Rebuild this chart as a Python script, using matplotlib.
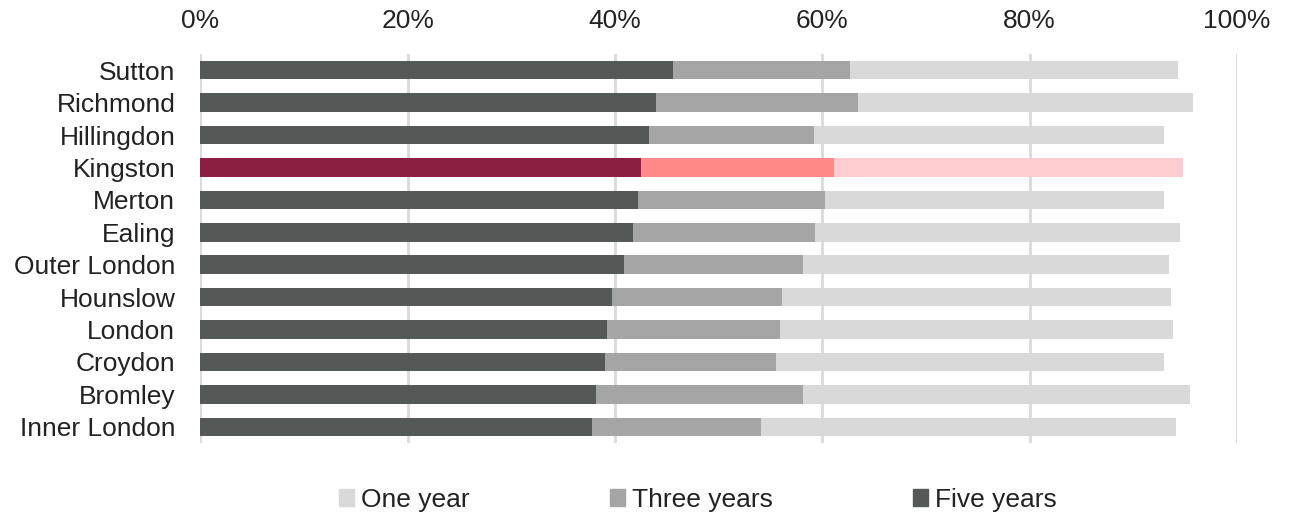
import matplotlib.pyplot as plt
from matplotlib.patches import Patch
from matplotlib.ticker import PercentFormatter

plt.rcParams['font.family'] = ['Liberation Sans', 'DejaVu Sans']

# Survival rates (%) by area, top to bottom
areas = ['Sutton', 'Richmond', 'Hillingdon', 'Kingston', 'Merton', 'Ealing',
         'Outer London', 'Hounslow', 'London', 'Croydon', 'Bromley', 'Inner London']
one_year = [94.3, 95.8, 93.0, 94.8, 93.0, 94.5, 93.4, 93.6, 93.8, 93.0, 95.5, 94.1]
three_years = [62.7, 63.4, 59.2, 61.1, 60.3, 59.3, 58.1, 56.1, 55.9, 55.5, 58.1, 54.1]
five_years = [45.6, 44.0, 43.3, 42.5, 42.2, 41.7, 40.9, 39.7, 39.2, 39.0, 38.2, 37.8]

highlight = 'Kingston'
grey = ['#d9d9d9', '#a5a5a5', '#545857']
red = ['#ffcdd0', '#ff8888', '#8b1f41']
text_col = '#222222'
fs = 19

fig = plt.figure(figsize=(12.9, 5.18), dpi=100)
ax = fig.add_axes([0.1553, 0.1448, 0.8036, 0.751])

ypos = list(range(len(areas)))
for series, k in [(one_year, 0), (three_years, 1), (five_years, 2)]:
    colors = [red[k] if a == highlight else grey[k] for a in areas]
    ax.barh(ypos, series, height=0.57, color=colors, zorder=2 + k)

ax.set_xlim(0, 100)
ax.set_ylim(len(areas) - 0.5, -0.5)
ax.set_yticks(ypos)
ax.set_yticklabels(areas)
ax.set_xticks(range(0, 101, 20))
ax.xaxis.set_major_formatter(PercentFormatter(decimals=0))
ax.xaxis.tick_top()
ax.tick_params(axis='both', length=0, labelsize=fs, colors=text_col)
ax.tick_params(axis='y', pad=18)
ax.tick_params(axis='x', pad=15)
ax.grid(axis='x', color='#d9d9d9', linewidth=2, zorder=0)
ax.set_axisbelow(True)
for s in ax.spines.values():
    s.set_visible(False)

handles = [Patch(color=grey[0], label='One year'),
           Patch(color=grey[1], label='Three years'),
           Patch(color=grey[2], label='Five years')]
leg = fig.legend(handles=handles, loc='center', bbox_to_anchor=(0.541, 0.035), ncol=3,
                 frameon=False, fontsize=fs, handlelength=0.57, handleheight=0.57,
                 handletextpad=0.27, columnspacing=5.3)
for t in leg.get_texts():
    t.set_color(text_col)

fig.savefig('out.png', dpi=100)
